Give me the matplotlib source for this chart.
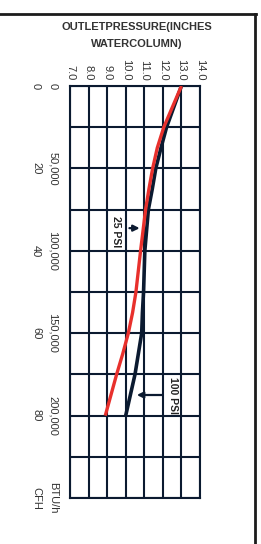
import matplotlib.pyplot as plt
from matplotlib.lines import Line2D

plt.rcParams['font.family'] = ['Liberation Sans', 'DejaVu Sans']

# flow in CFH (vertical, downward) and outlet pressure in inches w.c.
flow = [0, 10, 15, 20, 25, 30, 40, 50, 55, 60, 65, 70, 80]
psi25 = [13.0, 12.05, 11.7, 11.45, 11.25, 11.07, 10.8, 10.55, 10.37, 10.14, 9.84, 9.51, 8.9]
psi100 = [13.0, 12.2, 11.9, 11.62, 11.43, 11.22, 11.03, 10.96, 10.9, 10.86, 10.68, 10.5, 10.0]

pressure_ticks = [7.0, 8.0, 9.0, 10.0, 11.0, 12.0, 13.0, 14.0]
flow_ticks = [0, 20, 40, 60, 80, 100]
btu_labels = ['0', '50,000', '100,000', '150,000', '200,000', 'BTU/h']
cfh_labels = ['0', '20', '40', '60', '80', 'CFH']

navy = '#0b1a30'
red = '#e8302c'
txt = '#333333'

W, H = 261, 544
fig = plt.figure(figsize=(W / 100, H / 100), dpi=100)
ax = fig.add_axes([70 / W, (H - 498) / H, 130 / W, 412 / H])

ax.set_xlim(7, 14)
ax.set_ylim(100, 0)

for p in pressure_ticks:
    ax.axvline(p, color=navy, lw=1.5, zorder=1)
for f in range(0, 101, 10):
    ax.axhline(f, color=navy, lw=1.5, zorder=1)
for s in ax.spines.values():
    s.set_color(navy)
    s.set_linewidth(1.5)

ax.plot(psi100, flow, color=navy, lw=2.6, zorder=3,
        solid_capstyle='butt', solid_joinstyle='round')
ax.plot(psi25, flow, color=red, lw=2.4, zorder=4,
        solid_capstyle='butt', solid_joinstyle='round')

ax.set_xticks(pressure_ticks)
ax.set_xticklabels(['%.1f' % p for p in pressure_ticks])
ax.xaxis.tick_top()
ax.tick_params(axis='x', length=0, pad=4, labelsize=8, labelcolor=txt, rotation=-90)
ax.set_yticks([])

for f, b, c in zip(flow_ticks, btu_labels, cfh_labels):
    ax.annotate(b, xy=(0, f), xycoords=('axes fraction', 'data'),
                xytext=(-17, 0), textcoords='offset pixels',
                rotation=-90, ha='center', va='center', fontsize=8, color=txt)
    ax.annotate(c, xy=(0, f), xycoords=('axes fraction', 'data'),
                xytext=(-34, 0), textcoords='offset pixels',
                rotation=-90, ha='center', va='center', fontsize=8, color=txt)

# annotations
ax.annotate('', xy=(10.9, 34.5), xytext=(10.05, 34.5),
            arrowprops=dict(arrowstyle='-|>', color=navy, lw=1.6, mutation_scale=9))
ax.text(9.47, 35.4, '25 PSI', rotation=-90, ha='center', va='center',
        fontsize=7.5, fontweight='bold', color='#222222')
ax.annotate('', xy=(10.45, 75), xytext=(12.1, 75),
            arrowprops=dict(arrowstyle='-|>', color=navy, lw=1.6, mutation_scale=9))
ax.text(12.55, 75.2, '100 PSI', rotation=-90, ha='center', va='center',
        fontsize=7.5, fontweight='bold', color='#222222')

fig.text(137 / W, 1 - 27 / H, 'OUTLETPRESSURE(INCHES', ha='center', va='center',
         fontsize=8, fontweight='bold', color=txt)
fig.text(137 / W, 1 - 44 / H, 'WATERCOLUMN)', ha='center', va='center',
         fontsize=8, fontweight='bold', color=txt)

# outer frame: top and right edges
fig.add_artist(Line2D([0, 255.5 / W], [1 - 14 / H, 1 - 14 / H],
                      transform=fig.transFigure, color='#1c1c1c', lw=2))
fig.add_artist(Line2D([255 / W, 255 / W], [1 - 14 / H, 0],
                      transform=fig.transFigure, color='#1c1c1c', lw=2))

fig.savefig('out.png', dpi=100)
